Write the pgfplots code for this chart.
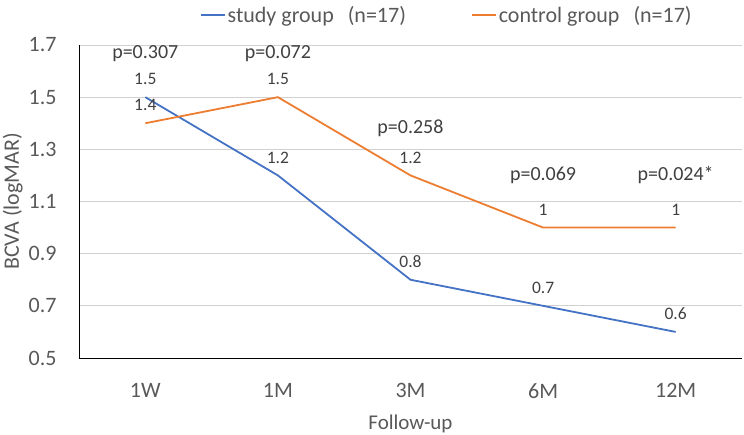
\documentclass[border=0pt]{standalone}
\usepackage{pgfplots}
\pgfplotsset{compat=1.18}
\usepackage{fontspec}
\setmainfont{Carlito}
\definecolor{sblue}{HTML}{4472C4}
\definecolor{sorange}{HTML}{ED7D31}
\definecolor{txt}{HTML}{595959}
\definecolor{lbl}{HTML}{404040}
\newcommand{\fs}[1]{\fontsize{#1}{#1}\selectfont}

\begin{document}
\begin{tikzpicture}
\begin{axis}[
  scale only axis,
  width=663pt, height=313pt,
  xmin=-0.5, xmax=4.5,
  ymin=0.5, ymax=1.7,
  xtick={0,1,2,3,4},
  xticklabels={1W,1M,3M,6M,12M},
  ytick={0.5,0.7,0.9,1.1,1.3,1.5,1.7},
  yticklabels={0.5,0.7,0.9,1.1,1.3,1.5,1.7},
  axis x line*=bottom, axis y line*=left,
  axis line style={-, black, line width=0.9pt},
  ymajorgrids, grid style={black!18, line width=0.8pt},
  major tick style={draw=none},
  ticklabel style={font=\fs{22}, text=txt},
  xticklabel style={yshift=-22pt},
  yticklabel style={xshift=-19pt},
  xlabel={Follow-up},
  xlabel style={font=\fs{21}, text=txt, at={(axis description cs:0.5,-0.211)}, anchor=center},
  ylabel={BCVA (logMAR)},
  ylabel style={font=\fs{22}, text=txt, at={(axis description cs:-0.1,0.5)}, anchor=center},
  legend style={draw=none, fill=none, font=\fs{22}, text=txt,
    at={(axis description cs:0.182,1.096)}, anchor=west,
    legend columns=2, /tikz/every even column/.append style={column sep=63pt},
    inner sep=0pt},
  legend image code/.code={\draw[#1] (0pt,0pt) -- (24pt,0pt);},
  nodes near coords,
  point meta=explicit symbolic,
  every node near coord/.append style={font=\fs{17.5}, text=lbl, anchor=south, yshift=8pt},
]
\addplot[sblue, line width=1.8pt, mark=none] coordinates {
  (0,1.5) [1.5]
  (1,1.2) [1.2]
  (2,0.8) [0.8]
  (3,0.7) [0.7]
  (4,0.6) [0.6]
};
\addlegendentry{study group\hspace{14pt}(n=17)}
\addplot[sorange, line width=1.8pt, mark=none] coordinates {
  (0,1.4) [1.4]
  (1,1.5) [1.5]
  (2,1.2) [1.2]
  (3,1.0) [1]
  (4,1.0) [1]
};
\addlegendentry{control group\hspace{14pt}(n=17)}

\node[font=\fs{20}, text=lbl] at (axis cs:0,1.668) {p=0.307};
\node[font=\fs{20}, text=lbl] at (axis cs:1,1.668) {p=0.072};
\node[font=\fs{20}, text=lbl] at (axis cs:2,1.382) {p=0.258};
\node[font=\fs{20}, text=lbl] at (axis cs:3,1.202) {p=0.069};
\node[font=\fs{20}, text=lbl] at (axis cs:4,1.202) {p=0.024*};
\coordinate (O) at (rel axis cs:0,0);
\end{axis}
\pgfresetboundingbox
\path (O) ++(-79pt,-76pt) rectangle ++(744pt,434pt);
\end{tikzpicture}
\end{document}
